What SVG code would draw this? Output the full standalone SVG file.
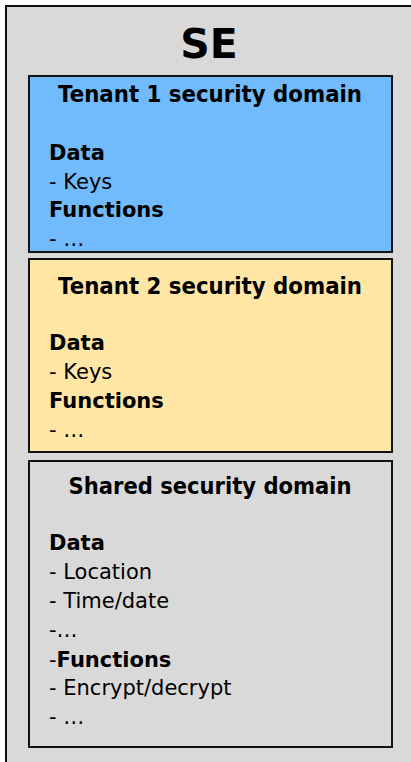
<svg xmlns="http://www.w3.org/2000/svg" width="411" height="762" viewBox="0 0 411 762">
  <style>
    .frame { stroke: #111; stroke-width: 2; }
    .t { font-family: "DejaVu Sans", Verdana, sans-serif; font-size: 21px; fill: #000; }
    .b { font-weight: bold; }
    .head { font-family: "DejaVu Sans", Verdana, sans-serif; font-size: 22.5px; font-weight: bold; text-anchor: middle; fill: #000; }
  </style>
  <rect width="411" height="762" fill="#ffffff"/>

  <!-- secure element enclosure -->
  <g id="se">
    <rect class="frame" x="6" y="6" width="420" height="770" fill="#d9d9d9"/>
    <text x="209" y="58" text-anchor="middle" font-family="DejaVu Sans, Verdana, sans-serif" font-size="41" font-weight="bold">SE</text>
  </g>

  <!-- tenant 1 domain -->
  <g id="tenant1">
    <rect class="frame" x="29" y="76" width="363" height="176" fill="#71bbfd"/>
    <text class="head" x="210" y="102" textLength="304" lengthAdjust="spacingAndGlyphs">Tenant 1 security domain</text>
    <text class="t b" x="49" y="160">Data</text>
    <text class="t" x="49" y="188.5">- Keys</text>
    <text class="t b" x="49" y="217">Functions</text>
    <text class="t" x="49" y="246">- …</text>
  </g>

  <!-- tenant 2 domain -->
  <g id="tenant2">
    <rect class="frame" x="29" y="259" width="363" height="193" fill="#ffe6a5"/>
    <text class="head" x="210" y="293.5" textLength="304" lengthAdjust="spacingAndGlyphs">Tenant 2 security domain</text>
    <text class="t b" x="49" y="350">Data</text>
    <text class="t" x="49" y="379">- Keys</text>
    <text class="t b" x="49" y="408">Functions</text>
    <text class="t" x="49" y="437">- …</text>
  </g>

  <!-- shared domain -->
  <g id="shared">
    <rect class="frame" x="29" y="461" width="363" height="286" fill="#d9d9d9"/>
    <text class="head" x="210" y="493.5" textLength="283" lengthAdjust="spacingAndGlyphs">Shared security domain</text>
    <text class="t b" x="49" y="550">Data</text>
    <text class="t" x="49" y="579">- Location</text>
    <text class="t" x="49" y="608">- Time/date</text>
    <text class="t" x="49" y="637">-…</text>
    <text class="t" x="49" y="666.5">-<tspan class="b">Functions</tspan></text>
    <text class="t" x="49" y="695">- Encrypt/decrypt</text>
    <text class="t" x="49" y="723.5">- …</text>
  </g>

  <g id="connectors"/>
</svg>
